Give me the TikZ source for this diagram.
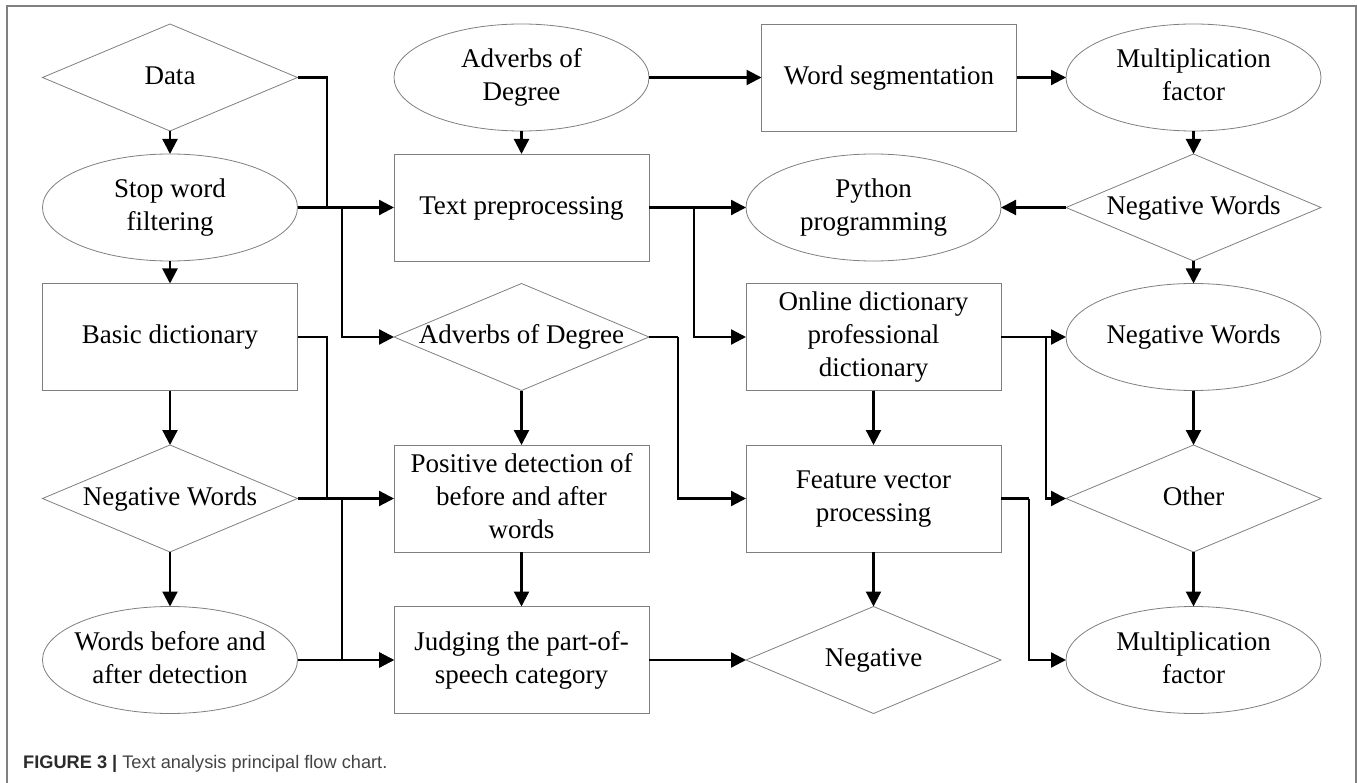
\documentclass[tikz,border=0pt]{standalone}
\usepackage{fontspec}
\setmainfont{Liberation Serif}
\newfontfamily\capfont{Liberation Sans}
\usetikzlibrary{shapes.geometric,arrows.meta}
\definecolor{boxgray}{HTML}{7F7F7F}
\definecolor{framegray}{HTML}{808080}
\definecolor{capdark}{HTML}{2B2B2B}
\definecolor{captext}{HTML}{444444}
\newcommand{\Tx}[1]{\makebox[0pt]{\begin{tabular}{@{}c@{}}#1\end{tabular}}}
\tikzset{
  base/.style={draw=boxgray, line width=0.8pt, inner sep=0pt, outer sep=0pt,
    font=\fontsize{27}{33}\selectfont, minimum width=255pt, minimum height=107pt},
  rbox/.style={base, rectangle},
  ebox/.style={base, ellipse},
  dbox/.style={base, diamond},
  conn/.style={line width=2.3pt, black},
  arr/.style={conn, -{Triangle[length=15pt,width=15pt]}},
}
\begin{document}
\begin{tikzpicture}[x=1pt,y=-1pt]
\useasboundingbox (0,0) rectangle (1357,783);
% frame
\draw[framegray, line width=1.6pt] (7,783) -- (7,6) -- (1356,6) -- (1356,783);

% column 1
\node[dbox] (data) at (170,77.5) {\Tx{Data}};
\node[ebox] (stop) at (170,207.5) {\Tx{Stop word\\filtering}};
\node[rbox] (basic) at (170,337) {\Tx{Basic dictionary}};
\node[dbox] (negw1) at (170,498.5) {\Tx{Negative Words}};
\node[ebox] (wba) at (170,660) {\Tx{Words before and\\after detection}};

% column 2
\node[ebox] (adv1) at (521.5,77.5) {\Tx{Adverbs of\\Degree}};
\node[rbox] (tp) at (521.5,207.5) {\Tx{Text preprocessing}};
\node[dbox] (adv2) at (521.5,337) {\Tx{Adverbs of Degree}};
\node[rbox] (pos) at (521.5,498.5) {\Tx{Positive detection of\\before and after\\words}};
\node[rbox] (judge) at (521.5,660) {\Tx{Judging the part-of-\\speech category}};

% column 3
\node[rbox] (ws) at (889,77.5) {\Tx{Word segmentation}};
\node[ebox] (py) at (873.5,207.5) {\Tx{Python\\programming}};
\node[rbox] (od) at (873.5,337) {\Tx{Online dictionary\\professional\\dictionary}};
\node[rbox] (fv) at (873.5,498.5) {\Tx{Feature vector\\processing}};
\node[dbox] (neg) at (873.5,660) {\Tx{Negative}};

% column 4
\node[ebox] (mf1) at (1193.5,77.5) {\Tx{Multiplication\\factor}};
\node[dbox] (nw2) at (1193.5,207.5) {\Tx{Negative Words}};
\node[ebox] (nwe) at (1193.5,337) {\Tx{Negative Words}};
\node[dbox] (oth) at (1193.5,498.5) {\Tx{Other}};
\node[ebox] (mf2) at (1193.5,660) {\Tx{Multiplication\\factor}};

% junction coordinates
\coordinate (j1) at (327,207.5);
\coordinate (j2) at (342,207.5);
\coordinate (j3) at (327,498.5);
\coordinate (j4) at (342,498.5);
\coordinate (j5) at (694,207.5);
\coordinate (j6) at (678,337);
\coordinate (j7) at (1046,337);
\coordinate (j8) at (1029,498.5);

% column 1 connectors
\draw[arr] (data.south) -- (stop.north);
\draw[arr] (stop.south) -- (basic.north);
\draw[arr] (basic.south) -- (negw1.north);
\draw[arr] (negw1.south) -- (wba.north);
\draw[conn] (data.east) -| (j1);
\draw[arr] (stop.east) -- (tp.west);
\draw[arr] (j2) |- (adv2.west);
\draw[conn] (basic.east) -| (j3);
\draw[arr] (negw1.east) -- (pos.west);
\draw[arr] (j4) |- (judge.west);
\draw[arr] (wba.east) -- (judge.west);

% column 2 connectors
\draw[arr] (adv1.south) -- (tp.north);
\draw[arr] (adv2.south) -- (pos.north);
\draw[arr] (pos.south) -- (judge.north);
\draw[arr] (adv1.east) -- (ws.west);
\draw[arr] (tp.east) -- (py.west);
\draw[arr] (j5) |- (od.west);
\draw[conn] (adv2.east) -- (j6);
\draw[arr] (j6) |- (fv.west);
\draw[arr] (judge.east) -- (neg.west);

% column 3 connectors
\draw[arr] (ws.east) -- (mf1.west);
\draw[arr] (nw2.west) -- (py.east);
\draw[arr] (od.south) -- (fv.north);
\draw[arr] (fv.south) -- (neg.north);
\draw[arr] (od.east) -- (nwe.west);
\draw[arr] (j7) |- (oth.west);
\draw[conn] (fv.east) -- (j8);
\draw[arr] (j8) |- (mf2.west);

% column 4 connectors
\draw[arr] (mf1.south) -- (nw2.north);
\draw[arr] (nw2.south) -- (nwe.north);
\draw[arr] (nwe.south) -- (oth.north);
\draw[arr] (oth.south) -- (mf2.north);

% caption
\node[anchor=base west, inner sep=0pt, font=\capfont\fontsize{18.2}{22}\selectfont] (cap) at (23,768)
  {\textcolor{capdark}{\textbf{FIGURE 3 |}} \textcolor{captext}{Text analysis principal flow chart.}};
\end{tikzpicture}
\end{document}
